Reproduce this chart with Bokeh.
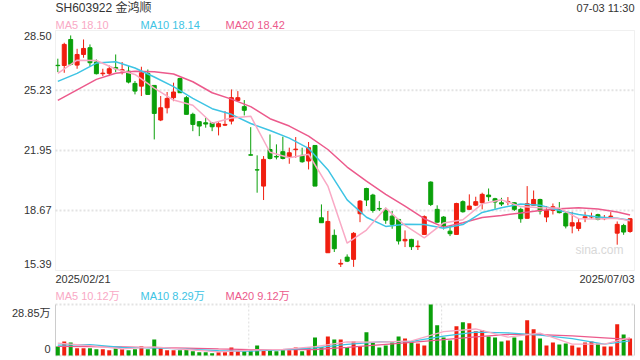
from bokeh.plotting import figure
from bokeh.models import Range1d, Label, ColumnDataSource, BoxAnnotation
from bokeh.layouts import column
from bokeh.embed import file_html
from bokeh.resources import INLINE

# ---------------- data ----------------
open_ = [26.60, 26.59, 28.01, 26.61, 27.19, 27.56, 26.78, 26.14, 26.16, 26.48,
         26.30, 26.28, 25.61, 25.46, 26.16, 25.50, 23.61, 24.28, 24.83, 25.88,
         24.83, 23.92, 23.52, 23.46, 23.46, 23.24, 23.33, 23.55, 24.68, 24.34,
         21.71, 20.89, 20.00, 22.00, 21.62, 21.88, 21.60, 21.99, 21.68, 21.37,
         22.22, 18.27, 16.36, 17.31, 15.74, 16.12, 16.00, 18.49, 19.87, 19.51,
         18.78, 18.69, 18.36, 18.18, 17.01, 17.09, 16.69, 17.36, 20.22, 18.73,
         18.31, 17.54, 17.36, 19.15, 18.73, 18.96, 19.09, 19.51, 19.31, 19.09,
         19.13, 19.09, 18.73, 18.24, 18.95, 19.27, 18.31, 18.67, 18.76, 18.51,
         17.82, 17.69, 18.27, 18.31, 18.44, 18.22, 18.34, 17.43, 17.85, 17.52]
high = [26.96, 27.83, 28.23, 27.50, 28.01, 27.74, 26.92, 26.41, 26.59, 27.19,
        26.78, 26.56, 25.74, 26.52, 26.37, 25.50, 24.92, 25.14, 25.65, 25.92,
        24.92, 24.01, 23.55, 23.73, 23.50, 23.50, 24.10, 25.28, 25.19, 24.70,
        23.22, 21.68, 21.64, 22.82, 22.28, 22.70, 22.10, 22.68, 22.10, 22.41,
        22.22, 19.00, 18.64, 17.63, 16.00, 16.27, 17.49, 19.24, 19.91, 19.58,
        19.18, 18.82, 18.64, 18.18, 17.58, 17.12, 17.03, 18.40, 20.26, 18.95,
        18.36, 17.82, 19.09, 19.22, 19.55, 19.42, 19.64, 19.87, 19.36, 19.36,
        19.40, 19.13, 18.82, 20.00, 19.76, 19.31, 18.91, 19.05, 19.13, 18.58,
        18.60, 18.22, 18.60, 18.55, 18.49, 18.42, 18.58, 18.07, 17.94, 18.25]
low = [26.23, 26.19, 26.59, 26.41, 27.01, 26.52, 26.10, 26.01, 26.01, 26.23,
       26.10, 25.61, 25.01, 24.92, 25.01, 22.55, 23.55, 23.97, 24.64, 25.10,
       23.92, 23.00, 22.73, 23.19, 23.00, 22.77, 23.28, 23.37, 24.64, 23.86,
       21.68, 19.64, 19.24, 21.46, 21.46, 21.46, 21.22, 21.55, 21.28, 20.91,
       20.00, 18.00, 16.36, 16.40, 15.58, 15.85, 15.59, 18.03, 18.91, 18.55,
       18.64, 17.94, 17.67, 16.81, 16.67, 16.51, 16.51, 17.36, 18.91, 18.00,
       17.63, 17.27, 17.36, 18.55, 18.69, 18.91, 18.73, 19.18, 18.76, 18.91,
       18.96, 18.64, 18.00, 18.24, 18.95, 18.45, 18.03, 18.45, 18.51, 17.69,
       17.42, 17.54, 18.03, 18.22, 18.13, 18.14, 18.31, 16.80, 17.34, 17.45]
close = [26.58, 27.74, 26.65, 27.19, 27.52, 26.74, 26.14, 26.17, 26.41, 26.41,
         26.36, 25.68, 25.19, 26.19, 25.01, 23.97, 24.28, 24.79, 25.14, 25.10,
         23.92, 23.37, 23.28, 23.39, 23.24, 23.41, 23.37, 24.83, 24.83, 24.14,
         21.69, 20.88, 21.46, 21.51, 21.59, 21.51, 21.82, 22.02, 21.33, 22.10,
         20.00, 18.00, 18.07, 16.58, 15.78, 15.90, 17.42, 19.18, 19.24, 18.67,
         18.75, 18.14, 17.91, 17.00, 17.09, 16.69, 16.72, 18.33, 19.00, 18.03,
         17.82, 17.40, 19.05, 18.60, 18.91, 19.15, 19.55, 19.42, 19.13, 19.02,
         19.16, 18.73, 18.22, 19.04, 19.27, 18.64, 18.67, 18.87, 18.55, 17.82,
         18.00, 18.00, 18.33, 18.34, 18.18, 18.25, 18.36, 17.91, 17.49, 18.22]
# volume in 万 (10k shares)
volume = [5.12, 7.97, 7.40, 4.17, 4.17, 4.17, 3.60, 3.60, 3.03, 4.17,
          3.60, 3.03, 3.60, 5.12, 3.60, 9.10, 4.17, 3.03, 3.03, 3.03,
          3.60, 2.47, 1.90, 1.90, 1.33, 1.90, 1.90, 4.55, 2.47, 2.47,
          3.60, 5.69, 3.60, 3.03, 2.47, 3.03, 3.03, 4.55, 2.47, 4.55,
          10.24, 4.74, 10.81, 9.10, 9.10, 4.74, 7.97, 5.12, 13.09, 7.40,
          4.55, 5.69, 7.40, 10.81, 9.67, 7.97, 6.83, 5.69, 28.85, 17.07,
          10.24, 8.54, 16.50, 18.78, 18.21, 13.66, 14.23, 10.81, 10.24, 7.97,
          8.54, 10.24, 8.54, 19.92, 14.79, 9.67, 5.69, 7.40, 6.26, 6.83,
          5.69, 4.55, 7.40, 7.97, 6.83, 5.12, 5.12, 17.64, 11.95, 9.67]

ma_idx = [0, 3, 6, 9, 12, 15, 18, 21, 24, 27, 30, 33, 36, 39, 42, 45, 48, 51,
          54, 57, 60, 63, 66, 69, 72, 75, 78, 81, 84, 87, 89]
ma5 = [26.16, 26.88, 26.86, 26.40, 26.10, 25.35, 24.70, 24.42, 23.43, 23.72,
       23.82, 21.85, 21.55, 21.74, 20.00, 16.88, 17.60, 18.80, 17.85, 17.17,
       17.99, 18.16, 19.03, 19.25, 18.88, 18.82, 18.80, 18.22, 18.20, 18.25, 18.10]
ma10 = [25.72, 26.16, 26.72, 26.79, 26.45, 25.96, 25.43, 24.79, 24.23, 23.92,
        23.42, 23.04, 22.62, 22.06, 20.90, 19.25, 18.30, 17.80, 17.92, 17.90,
        17.70, 17.90, 18.56, 18.82, 19.02, 18.96, 18.67, 18.45, 18.31, 18.24, 18.14]
ma20 = [24.68, 25.26, 25.83, 26.16, 26.27, 26.25, 26.12, 25.70, 25.10, 24.75,
        24.34, 23.68, 23.28, 22.73, 22.00, 21.04, 20.27, 19.55, 18.91, 18.22,
        17.76, 18.00, 18.29, 18.40, 18.53, 18.67, 18.76, 18.82, 18.75, 18.58, 18.42]

vma_idx = [0, 5, 10, 15, 20, 25, 30, 35, 40, 45, 50, 55, 60, 65, 70, 75, 80, 85, 89]
vma5 = [7.0, 5.6, 3.8, 4.9, 3.4, 2.0, 3.0, 3.5, 5.0, 7.7, 7.6, 8.3, 13.5, 15.0,
        10.4, 12.6, 6.4, 6.4, 10.12]
vma10 = [5.9, 6.2, 4.6, 4.3, 3.6, 2.7, 2.5, 3.3, 4.3, 6.3, 7.7, 8.0, 11.0, 13.2,
         12.8, 11.5, 9.5, 6.4, 8.29]
vma20 = [5.2, 5.0, 4.8, 4.5, 4.2, 3.7, 3.3, 3.3, 3.4, 4.6, 6.0, 7.4, 9.0, 10.5,
         11.9, 11.8, 11.1, 10.0, 9.12]

price_ticks = [15.39, 18.67, 21.95, 25.23, 28.50]
vol_top = 28.85
vol_marks = [29.7, 59.7]
title_text = "SH603922 金鸿顺"
time_text = "07-03 11:30"
start_date = "2025/02/21"
end_date = "2025/07/03"

# ---------------- styling / layout ----------------
UP = "#f01e0f"
DOWN = "#0aa00a"
C_MA5 = "#f9a9c5"
C_MA10 = "#3ec4e4"
C_MA20 = "#ec5a8c"
TXT = "#333333"
FONT = "Liberation Sans, Arial, Noto Sans CJK SC"
GRID = "#e3e3e3"
BORDER = "#cccccc"

W = 640
H1, H2 = 290, 70
LEFT, RIGHT = 55, 634            # frame left/right (px)
TOP1, BOT1 = 30, 270             # price frame (px within fig 1)
TOP2, BOT2 = 14, 65              # volume frame (px within fig 2)

n = len(close)
idx = list(range(n))
colors = [UP if c >= o else DOWN for o, c in zip(open_, close)]
src = ColumnDataSource(dict(
    x=idx, o=open_, h=high, l=low, c=close,
    top=[max(o, c) for o, c in zip(open_, close)],
    bot=[min(o, c) for o, c in zip(open_, close)],
    vol=volume, color=colors))

x_start, x_end = -0.36, 89.69
xs = (RIGHT - LEFT) / (x_end - x_start)
x_range = Range1d(x_start - LEFT / xs, x_end + (W - RIGHT) / xs)

p_lo, p_hi = price_ticks[0], price_ticks[-1]
ys1 = (BOT1 - TOP1) / (p_hi - p_lo)
y_range1 = Range1d(p_lo - (H1 - BOT1) / ys1, p_hi + TOP1 / ys1)

ys2 = (BOT2 - TOP2) / vol_top
y_range2 = Range1d(0 - (H2 - BOT2) / ys2, vol_top + TOP2 / ys2)


def make_fig(h, yr):
    f = figure(width=W, height=h, x_range=x_range, y_range=yr,
               x_axis_type=None, y_axis_type=None, toolbar_location=None,
               output_backend="svg", min_border=0,
               min_border_left=0, min_border_right=0,
               min_border_top=0, min_border_bottom=0,
               background_fill_color="white", border_fill_color="white",
               outline_line_color=None)
    f.xgrid.visible = False
    f.ygrid.visible = False
    return f


def lab(fig, text, x, y, yoff=0, align="left", color=TXT, size="11px"):
    fig.add_layout(Label(x=x, y=y, x_units="screen", y_units="data",
                         y_offset=yoff, text=text, text_align=align,
                         text_baseline="middle", text_color=color,
                         text_font=FONT, text_font_size=size))


# ---------------- main price chart ----------------
p = make_fig(H1, y_range1)
inner = price_ticks[1:-1]
p.segment(x0=[x_start] * len(inner), x1=[x_end] * len(inner), y0=inner, y1=inner,
          line_color=GRID, line_dash="2 2", line_width=2)
p.add_layout(BoxAnnotation(left=x_start, right=x_end, bottom=p_lo, top=p_hi,
                           fill_alpha=0, line_color=BORDER, line_width=1))

p.segment(x0="x", y0="l", x1="x", y1="h", color="color", line_width=1, source=src)
p.vbar(x="x", top="top", bottom="bot", width=0.62, fill_color="color",
       line_color="color", line_width=1, source=src)

p.line(ma_idx, ma20, line_color=C_MA20, line_width=1.5)
p.line(ma_idx, ma10, line_color=C_MA10, line_width=1.5)
p.line(ma_idx, ma5, line_color=C_MA5, line_width=1.5)

lab(p, title_text, LEFT, p_hi, yoff=23, size="12px")
lab(p, time_text, RIGHT, p_hi, yoff=23, align="right")
lab(p, "MA5 18.10", LEFT, p_hi, yoff=6, color=C_MA5)
lab(p, "MA10 18.14", 140, p_hi, yoff=6, color=C_MA10)
lab(p, "MA20 18.42", 225, p_hi, yoff=6, color=C_MA20)
tick_off = {0: 7, len(price_ticks) - 1: -5}
for k, t in enumerate(price_ticks):
    lab(p, "%.2f" % t, LEFT - 4, t, yoff=tick_off.get(k, 0), align="right")
lab(p, start_date, LEFT, p_lo, yoff=-8)
lab(p, end_date, RIGHT, p_lo, yoff=-8, align="right")
lab(p, "sina.com", 623, p_lo, yoff=21, align="right", color="#d8d8d8", size="12px")

# ---------------- volume chart ----------------
v = make_fig(H2, y_range2)
v.segment(x0=[x_start, x_start], x1=[x_end, x_end], y0=[0, vol_top], y1=[0, vol_top],
          line_color=GRID, line_dash="2 2", line_width=2)
v.segment(x0=vol_marks, x1=vol_marks, y0=[0, 0], y1=[vol_top, vol_top],
          line_color="#dddddd", line_dash="2 2", line_width=1)
v.segment(x0=[x_start, x_end], x1=[x_start, x_end], y0=[0, 0], y1=[vol_top, vol_top],
          line_color=BORDER, line_width=1)

v.vbar(x="x", top="vol", bottom=0, width=0.62, fill_color="color",
       line_color=None, source=src)
v.line(vma_idx, vma20, line_color=C_MA20, line_width=1.3)
v.line(vma_idx, vma10, line_color=C_MA10, line_width=1.3)
v.line(vma_idx, vma5, line_color=C_MA5, line_width=1.3)

lab(v, "MA5 10.12万", LEFT, vol_top, yoff=9, color=C_MA5)
lab(v, "MA10 8.29万", 140, vol_top, yoff=9, color=C_MA10)
lab(v, "MA20 9.12万", 225, vol_top, yoff=9, color=C_MA20)
lab(v, "28.85万", LEFT - 5, vol_top, yoff=-8, align="right")
lab(v, "0", LEFT - 5, 0, yoff=7, align="right")

layout = column(p, v, spacing=0,
                styles={"position": "absolute", "left": "0px", "top": "0px"})

open("out.html", "w").write(file_html(layout, INLINE))
